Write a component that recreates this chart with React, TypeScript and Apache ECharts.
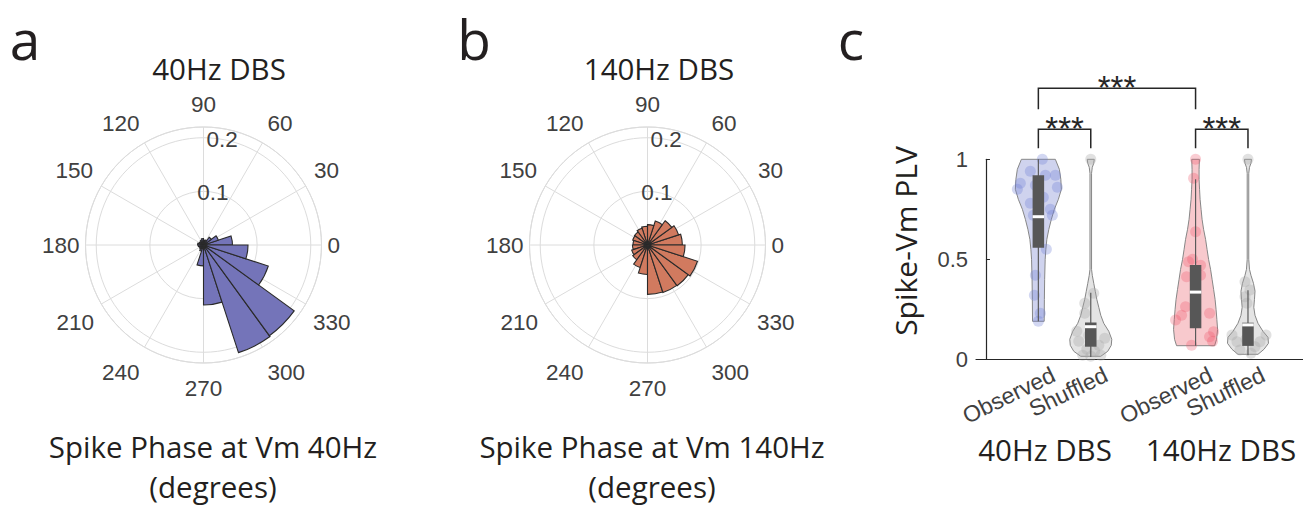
import React, { useEffect, useRef } from "react";
import * as echarts from "echarts";

// ---------------- Panels a & b : spike-phase histograms (20 bins of 18 degrees) ----------------
const phaseBins = ["0", "18", "36", "54", "72", "90", "108", "126", "144", "162", "180", "198", "216", "234", "252", "270", "288", "306", "324", "342"];
const hist40Hz = [0.054, 0.029, 0.018, 0.010, 0.009, 0.012, 0.010, 0.008, 0.009, 0.011, 0.010, 0.008, 0.009, 0.012, 0.039, 0.112, 0.211, 0.209, 0.127, 0.083];
const hist140Hz = [0.065, 0.061, 0.056, 0.047, 0.038, 0.035, 0.033, 0.030, 0.029, 0.027, 0.028, 0.031, 0.034, 0.044, 0.055, 0.092, 0.093, 0.094, 0.098, 0.070];
const radialTicks = [0.1, 0.2];
const radialMax = 0.22;
const thetaStep = 30;

const polarTitles = ["40Hz DBS", "140Hz DBS"];
const polarXLabels = [["Spike Phase at Vm 40Hz", "(degrees)"], ["Spike Phase at Vm 140Hz", "(degrees)"]];
const panelLetters = ["a", "b", "c"];

// ---------------- Panel c : violin plots ----------------
const violinNames = ["Observed", "Shuffled", "Observed", "Shuffled"];
const violinPositions = [1, 2, 4, 5];
const groupLabels = ["40Hz DBS", "140Hz DBS"];
const yTicks = [0, 0.5, 1];
const yAxisTitle = "Spike-Vm PLV";

// density outlines: levels (PLV) and half widths (x units)
const obs40Levels = [1.0, 0.95, 0.9, 0.85, 0.8, 0.75, 0.7, 0.65, 0.6, 0.55, 0.5, 0.4, 0.3, 0.19];
const obs40Widths = [0.324, 0.401, 0.429, 0.439, 0.382, 0.305, 0.248, 0.2, 0.162, 0.143, 0.13, 0.12, 0.115, 0.111];
const shuf40Levels = [1.0, 0.98, 0.96, 0.93, 0.45, 0.42, 0.38, 0.34, 0.3, 0.26, 0.22, 0.18, 0.14, 0.1, 0.07, 0.04, 0.015];
const shuf40Widths = [0.067, 0.057, 0.029, 0.015, 0.015, 0.029, 0.057, 0.086, 0.115, 0.153, 0.191, 0.248, 0.344, 0.401, 0.391, 0.324, 0.191];
const obs140Levels = [1.0, 0.95, 0.9, 0.85, 0.8, 0.75, 0.7, 0.65, 0.6, 0.55, 0.5, 0.45, 0.4, 0.35, 0.3, 0.25, 0.2, 0.15, 0.1, 0.068];
const obs140Widths = [0.073, 0.067, 0.067, 0.076, 0.086, 0.105, 0.124, 0.153, 0.191, 0.219, 0.248, 0.286, 0.315, 0.344, 0.372, 0.391, 0.406, 0.42, 0.401, 0.363];
const shuf140Levels = [1.0, 0.98, 0.96, 0.93, 0.5, 0.45, 0.42, 0.38, 0.34, 0.3, 0.26, 0.22, 0.18, 0.14, 0.11, 0.08, 0.05, 0.025];
const shuf140Widths = [0.067, 0.057, 0.029, 0.015, 0.015, 0.029, 0.057, 0.105, 0.134, 0.124, 0.111, 0.134, 0.191, 0.286, 0.382, 0.391, 0.305, 0.191];

// box statistics: [whiskerLow, q1, median, q3, whiskerHigh]
const obs40Box = [0.19, 0.558, 0.713, 0.92, 1.0];
const shuf40Box = [0.012, 0.063, 0.163, 0.184, 0.333];
const obs140Box = [0.068, 0.155, 0.336, 0.472, 0.9];
const shuf140Box = [0.02, 0.067, 0.172, 0.183, 0.345];

// individual points: [jitter (x units), PLV]
const obs40Points = [[0.076, 1.0], [-0.153, 0.94], [0.134, 0.92], [0.324, 0.92], [-0.344, 0.88], [-0.401, 0.85], [0.363, 0.86], [-0.057, 0.87], [0.095, 0.81], [-0.153, 0.78], [0.229, 0.75], [0.267, 0.72], [-0.095, 0.72], [0.153, 0.55], [-0.057, 0.42], [-0.076, 0.32], [0.038, 0.23], [0.0, 0.19]];
const shuf40Points = [[0.0, 1.0], [0.057, 0.33], [-0.115, 0.28], [-0.115, 0.23], [-0.038, 0.12], [-0.267, 0.14], [0.267, 0.105], [-0.229, 0.09], [0.153, 0.07], [-0.076, 0.05], [0.076, 0.04], [-0.153, 0.02], [0.191, 0.02], [0.0, 0.015]];
const obs140Points = [[0.0, 1.0], [-0.038, 0.905], [0.0, 0.638], [-0.057, 0.5], [-0.134, 0.488], [0.095, 0.47], [-0.172, 0.413], [0.095, 0.42], [0.0, 0.3], [-0.191, 0.263], [-0.267, 0.22], [-0.382, 0.197], [0.267, 0.23], [0.344, 0.138], [0.267, 0.113], [0.324, 0.09], [-0.076, 0.07]];
const shuf140Points = [[0.0, 1.0], [-0.057, 0.388], [0.038, 0.347], [-0.057, 0.313], [-0.019, 0.28], [-0.305, 0.122], [0.344, 0.122], [-0.038, 0.1], [-0.21, 0.088], [0.229, 0.088], [0.134, 0.063], [-0.153, 0.047], [0.057, 0.03]];

// significance brackets: [xLeft, xRight, footLevel, topLevel]
const brackets = [[1, 2, 1.055, 1.15], [4, 5, 1.055, 1.15], [1, 4, 1.25, 1.355]];
const bracketLabels = ["***", "***", "***"];

// ---------------- styling ----------------
const ARIAL = "'Liberation Sans', Arial, Helvetica, sans-serif";
const MYRIAD = "'Open Sans', 'Noto Sans', sans-serif";
const TICK_COLOR = "#404040";
const GRID_COLOR = "#dcdcdc";
const TEXT_COLOR = "#231f20";
const LABEL_SHIFT = 0.29;
const TICK_FONT = 22.5;

// per-angle label nudges [top, right, bottom, left] (padding, px) to mimic MATLAB's label ring
const thetaPad: Record<number, number[]> = {
  0: [0, 0, 0, 0], 30: [0, 0, 1, 3], 60: [0, 0, 3, 2], 90: [0, 0, 5, 0], 120: [0, 2, 3, 0], 150: [0, 3, 1, 0],
  180: [0, 0, 0, 0], 210: [4, 2, 0, 0], 240: [9, 2, 0, 0], 270: [8, 0, 0, 0], 300: [9, 0, 0, 2], 330: [4, 0, 0, 2],
};

function buildPolar(base: number, center: number[], hist: number[], color: string) {
  const polar = [0, 1, 2].map(() => ({ center, radius: 118 }));
  const rich: Record<string, any> = {};
  Object.keys(thetaPad).forEach((k) => {
    rich["t" + k] = { padding: thetaPad[Number(k)], fontSize: TICK_FONT, fontFamily: ARIAL, color: TICK_COLOR };
  });
  const angleAxis = [
    {
      polarIndex: base, type: "value", min: 0, max: 360, interval: thetaStep, startAngle: 0, clockwise: false,
      axisLine: { show: true, lineStyle: { color: GRID_COLOR, width: 1 } },
      axisTick: { show: false },
      axisLabel: {
        show: true, color: TICK_COLOR, fontSize: TICK_FONT, fontFamily: ARIAL, margin: 6, rich,
        formatter: (v: number) => (v >= 360 ? "" : `{t${v}|${v}}`),
      },
      splitLine: { show: true, lineStyle: { color: GRID_COLOR, width: 1 } },
    },
    {
      polarIndex: base + 1, type: "category", data: phaseBins, startAngle: 0, clockwise: false, boundaryGap: true,
      axisLine: { show: false }, axisTick: { show: false }, axisLabel: { show: false }, splitLine: { show: false },
    },
    {
      polarIndex: base + 2, type: "value", min: 0, max: 360, startAngle: 80, clockwise: false,
      axisLine: { show: false }, axisTick: { show: false }, axisLabel: { show: false }, splitLine: { show: false },
    },
  ];
  const radiusAxis = [
    {
      polarIndex: base, type: "value", min: 0, max: radialMax, interval: 0.1,
      axisLine: { show: false }, axisTick: { show: false }, axisLabel: { show: false },
      splitLine: { show: true, lineStyle: { color: GRID_COLOR, width: 1 } },
    },
    {
      polarIndex: base + 1, type: "value", min: 0, max: radialMax,
      axisLine: { show: false }, axisTick: { show: false }, axisLabel: { show: false }, splitLine: { show: false },
    },
    {
      polarIndex: base + 2, type: "value", min: 0, max: radialMax, interval: 0.1,
      axisLine: { show: false }, axisTick: { show: false }, splitLine: { show: false },
      axisLabel: {
        show: true, color: TICK_COLOR, fontSize: TICK_FONT, fontFamily: ARIAL, margin: 0, align: "center", verticalAlign: "middle",
        formatter: (v: number) => (radialTicks.some((t) => Math.abs(t - v) < 1e-9) ? v.toFixed(1) : ""),
      },
    },
  ];
  const series = {
    type: "bar", coordinateSystem: "polar", polarIndex: base + 1, data: hist, barCategoryGap: "0%",
    itemStyle: { color, borderColor: "#2a2a2a", borderWidth: 1.1 }, silent: true, z: 3,
  };
  return { polar, angleAxis, radiusAxis, series };
}

const violins = [
  { levels: obs40Levels, widths: obs40Widths, box: obs40Box, points: obs40Points, fill: "#cfd3ee", dot: "rgba(108,124,214,0.38)" },
  { levels: shuf40Levels, widths: shuf40Widths, box: shuf40Box, points: shuf40Points, fill: "#e4e4e4", dot: "rgba(165,165,165,0.42)" },
  { levels: obs140Levels, widths: obs140Widths, box: obs140Box, points: obs140Points, fill: "#f8c9cd", dot: "rgba(238,80,100,0.36)" },
  { levels: shuf140Levels, widths: shuf140Widths, box: shuf140Box, points: shuf140Points, fill: "#e4e4e4", dot: "rgba(165,165,165,0.42)" },
];

function txt(text: string, x: number, y: number, fontSize: number, family: string, rotation = 0, color = TEXT_COLOR) {
  return {
    type: "text", x, y, rotation, silent: true,
    style: {
      text, fontSize, fontFamily: family, fill: color,
      align: "center", verticalAlign: "middle", textAlign: "center", textVerticalAlign: "middle",
    },
  };
}

function buildOption() {
  const pa = buildPolar(0, [203.5, 245], hist40Hz, "#7474b9");
  const pb = buildPolar(3, [647.5, 245], hist140Hz, "#d17a5f");

  const violinSeries = {
    type: "custom", xAxisIndex: 0, yAxisIndex: 0, clip: false, silent: true, z: 1,
    data: violinPositions.map((p) => [p, 0]),
    renderItem: (params: any, api: any) => {
      const v = violins[params.dataIndex];
      const pos = violinPositions[params.dataIndex];
      const pts: number[][] = [];
      for (let k = 0; k < v.levels.length; k++) pts.push(api.coord([pos + v.widths[k], v.levels[k]]));
      for (let k = v.levels.length - 1; k >= 0; k--) pts.push(api.coord([pos - v.widths[k], v.levels[k]]));
      return { type: "polygon", shape: { points: pts }, style: { fill: v.fill, stroke: "#878787", lineWidth: 1 } };
    },
  };

  const pointSeries = violins.map((v, i) => ({
    type: "scatter", xAxisIndex: 0, yAxisIndex: 0, silent: true, z: 2, symbolSize: 11,
    data: v.points.map((p) => [violinPositions[i] + p[0], p[1]]),
    itemStyle: { color: v.dot, borderWidth: 0 },
  }));

  const BOX_HALF = 0.11;
  const boxSeries = {
    type: "custom", xAxisIndex: 0, yAxisIndex: 0, clip: false, silent: true, z: 3,
    data: violinPositions.map((p) => [p, 0]),
    renderItem: (params: any, api: any) => {
      const b = violins[params.dataIndex].box;
      const pos = violinPositions[params.dataIndex];
      const wLo = api.coord([pos, b[0]]);
      const wHi = api.coord([pos, b[4]]);
      const q1 = api.coord([pos - BOX_HALF, b[1]]);
      const q3 = api.coord([pos + BOX_HALF, b[3]]);
      const md = api.coord([pos, b[2]]);
      return {
        type: "group",
        children: [
          { type: "line", shape: { x1: wLo[0], y1: wLo[1], x2: wHi[0], y2: wHi[1] }, style: { stroke: "#5a5a5a", lineWidth: 1.2 } },
          { type: "rect", shape: { x: q1[0], y: q3[1], width: q3[0] - q1[0], height: q1[1] - q3[1] }, style: { fill: "#575757" } },
          { type: "rect", shape: { x: q1[0], y: md[1] - 1.5, width: q3[0] - q1[0], height: 3 }, style: { fill: "#ffffff" } },
        ],
      };
    },
  };

  const bracketSeries = {
    type: "custom", xAxisIndex: 0, yAxisIndex: 0, clip: false, silent: true, z: 4,
    data: brackets.map((b) => [b[0], b[3]]),
    renderItem: (params: any, api: any) => {
      const b = brackets[params.dataIndex];
      const a1 = api.coord([b[0], b[2]]);
      const a2 = api.coord([b[0], b[3]]);
      const a3 = api.coord([b[1], b[3]]);
      const a4 = api.coord([b[1], b[2]]);
      const mid = api.coord([(b[0] + b[1]) / 2, b[3]]);
      return {
        type: "group",
        children: [
          { type: "polyline", shape: { points: [a1, a2, a3, a4] }, style: { stroke: "#262626", lineWidth: 1.5, fill: "none" } },
          {
            type: "text", x: mid[0], y: mid[1] - 1,
            style: { text: bracketLabels[params.dataIndex], fontSize: 33, fontFamily: ARIAL, fill: "#262626", align: "center", verticalAlign: "middle", textAlign: "center", textVerticalAlign: "middle" },
          },
        ],
      };
    },
  };

  const graphics = [
    txt(panelLetters[0], 25, 38, 55, MYRIAD),
    txt(panelLetters[1], 474, 38, 55, MYRIAD),
    txt(panelLetters[2], 851, 38, 55, MYRIAD),
    txt(polarTitles[0], 219, 68, 29.5, MYRIAD),
    txt(polarTitles[1], 659, 68, 29.5, MYRIAD),
    txt(polarXLabels[0][0], 213, 446, 29.5, MYRIAD),
    txt(polarXLabels[0][1], 213, 486, 29.5, MYRIAD),
    txt(polarXLabels[1][0], 652, 446, 29.5, MYRIAD),
    txt(polarXLabels[1][1], 652, 486, 29.5, MYRIAD),
    txt(groupLabels[0], 1045, 449, 29.5, MYRIAD),
    txt(groupLabels[1], 1221, 449, 29.5, MYRIAD),
    txt(yAxisTitle, 905, 241, 30, MYRIAD, Math.PI / 2),
  ];

  const labelValues = violinPositions.map((p) => p + LABEL_SHIFT);

  return {
    animation: false,
    backgroundColor: "#ffffff",
    polar: [...pa.polar, ...pb.polar],
    angleAxis: [...pa.angleAxis, ...pb.angleAxis],
    radiusAxis: [...pa.radiusAxis, ...pb.radiusAxis],
    grid: [{ left: 976, top: 159.3, width: 327, height: 200, containLabel: false }],
    xAxis: [{
      type: "value", min: -0.19, max: 6.05,
      axisLine: { show: true, lineStyle: { color: "#262626", width: 1.2 } },
      axisTick: { show: false }, splitLine: { show: false },
      axisLabel: {
        show: true, customValues: labelValues, rotate: 26, margin: 14, showMinLabel: true, showMaxLabel: true,
        color: TICK_COLOR, fontSize: 23, fontFamily: ARIAL,
        formatter: (v: number) => {
          const i = labelValues.findIndex((x) => Math.abs(x - v) < 1e-6);
          return i >= 0 ? violinNames[i] : "";
        },
      },
    }],
    yAxis: [{
      type: "value", min: 0, max: 1, interval: 0.5,
      axisLine: { show: true, lineStyle: { color: "#262626", width: 1.2 } },
      axisTick: { show: true, inside: true, length: 4, lineStyle: { color: "#262626" } },
      splitLine: { show: false },
      axisLabel: { color: TICK_COLOR, fontSize: 22, fontFamily: ARIAL, margin: 8, formatter: (v: number) => (yTicks.includes(v) ? String(v) : "") },
    }],
    graphic: graphics,
    series: [pa.series, pb.series, violinSeries, ...pointSeries, boxSeries, bracketSeries],
  };
}

export default function App() {
  const ref = useRef<HTMLDivElement>(null);
  useEffect(() => {
    if (!ref.current) return;
    const chart = echarts.init(ref.current, null, { renderer: "svg" });
    chart.setOption(buildOption() as any);
    return () => chart.dispose();
  }, []);
  return <div ref={ref} style={{ position: "fixed", left: 0, top: 0, width: 1303, height: 507, background: "#fff" }} />;
}
